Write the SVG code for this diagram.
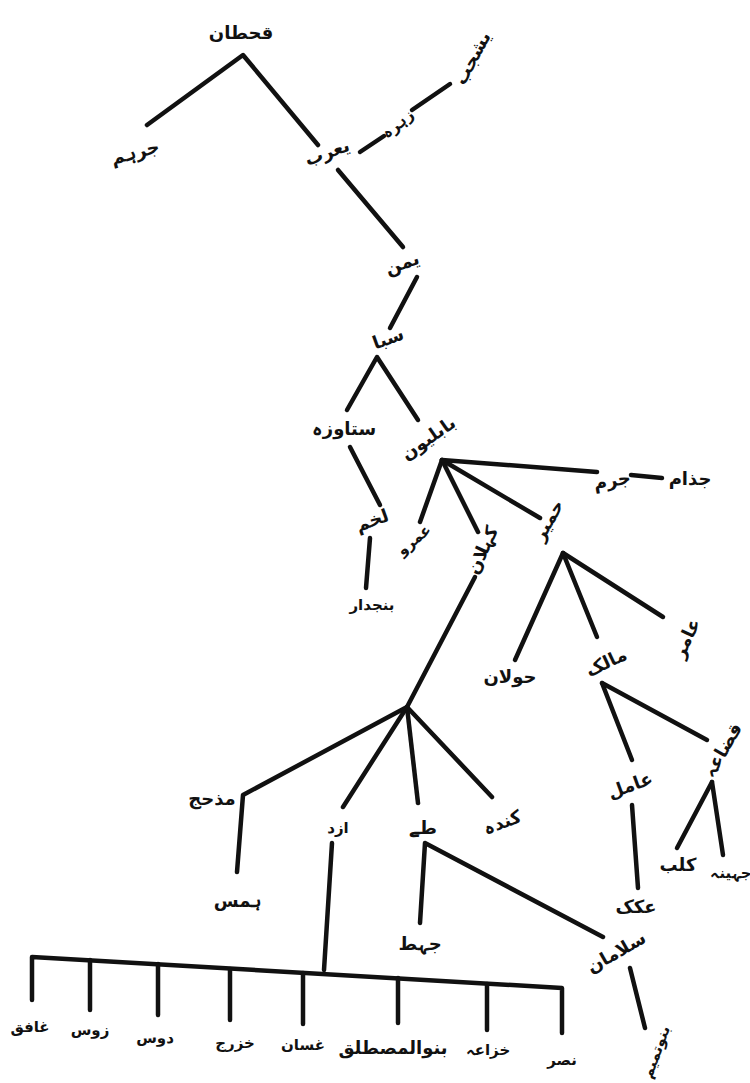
<svg xmlns="http://www.w3.org/2000/svg" width="750" height="1083" viewBox="0 0 750 1083">
<style>
.l{stroke:#111;stroke-width:4.5;fill:none;stroke-linecap:round;stroke-linejoin:round}
.t{font-family:"DejaVu Sans",sans-serif;font-weight:bold;font-size:18px;fill:#111;text-anchor:middle;dominant-baseline:central}
.s{font-size:15px}
</style>
<rect width="750" height="1083" fill="#ffffff"/>
<g id="connectors">
<polyline class="l" points="147,125 243,55 318,145"/>
<line class="l" x1="360" y1="152" x2="384" y2="136"/>
<line class="l" x1="412" y1="110" x2="450" y2="84"/>
<line class="l" x1="338" y1="170" x2="403" y2="247"/>
<line class="l" x1="417" y1="277" x2="390" y2="328"/>
<polyline class="l" points="347,410 377,357 418,420"/>
<line class="l" x1="350" y1="447" x2="380" y2="505"/>
<line class="l" x1="370" y1="538" x2="366" y2="588"/>
<line class="l" x1="442" y1="460" x2="420" y2="522"/>
<line class="l" x1="442" y1="460" x2="478" y2="532"/>
<line class="l" x1="442" y1="460" x2="540" y2="518"/>
<line class="l" x1="442" y1="460" x2="597" y2="472"/>
<line class="l" x1="631" y1="475" x2="662" y2="478"/>
<line class="l" x1="563" y1="553" x2="515" y2="660"/>
<line class="l" x1="563" y1="553" x2="597" y2="637"/>
<line class="l" x1="563" y1="553" x2="663" y2="617"/>
<line class="l" x1="602" y1="683" x2="632" y2="760"/>
<line class="l" x1="602" y1="683" x2="707" y2="740"/>
<line class="l" x1="712" y1="782" x2="677" y2="848"/>
<line class="l" x1="712" y1="782" x2="723" y2="855"/>
<line class="l" x1="632" y1="805" x2="638" y2="888"/>
<line class="l" x1="630" y1="968" x2="645" y2="1028"/>
<line class="l" x1="475" y1="577" x2="407" y2="707"/>
<polyline class="l" points="407,707 243,795 237,872"/>
<line class="l" x1="407" y1="707" x2="343" y2="807"/>
<line class="l" x1="407" y1="707" x2="418" y2="803"/>
<line class="l" x1="407" y1="707" x2="492" y2="797"/>
<polyline class="l" points="420,923 425,843 603,937"/>
<line class="l" x1="332" y1="843" x2="324" y2="970"/>
<polyline class="l" points="32,1000 32,957 562,988 562,1033"/>
<line class="l" x1="90" y1="960" x2="90" y2="1010"/>
<line class="l" x1="158" y1="964" x2="158" y2="1015"/>
<line class="l" x1="230" y1="969" x2="230" y2="1020"/>
<line class="l" x1="303" y1="973" x2="303" y2="1024"/>
<line class="l" x1="398" y1="978" x2="398" y2="1023"/>
<line class="l" x1="487" y1="984" x2="487" y2="1030"/>
</g>
<g id="n-qahtan"><text class="t" x="241" y="32">قحطان</text></g>
<g id="n-jurhum"><text class="t" x="135" y="152" transform="rotate(-15 135 152)">جرہم</text></g>
<g id="n-yarub"><text class="t" x="327" y="152" transform="rotate(-20 327 152)">یعرب</text></g>
<g id="n-zuhra"><text class="t s" x="398" y="124" transform="rotate(-40 398 124)">زہرہ</text></g>
<g id="n-yashjub"><text class="t" x="472" y="58" transform="rotate(-62 472 58)">یشجب</text></g>
<g id="n-yaman"><text class="t" x="402" y="263" transform="rotate(-20 402 263)">یمن</text></g>
<g id="n-saba"><text class="t" x="388" y="338" transform="rotate(-20 388 338)">سبا</text></g>
<g id="n-sitawza"><text class="t" x="344" y="428">ستاوزہ</text></g>
<g id="n-babliyun"><text class="t" x="428" y="438" transform="rotate(-35 428 438)">بابلیون</text></g>
<g id="n-lakhm"><text class="t" x="372" y="520" transform="rotate(-20 372 520)">لخم</text></g>
<g id="n-banjdar"><text class="t s" x="372" y="605">بنجدار</text></g>
<g id="n-amr"><text class="t s" x="414" y="540" transform="rotate(-40 414 540)">عمرو</text></g>
<g id="n-kahlan"><text class="t" x="482" y="550" transform="rotate(-65 482 550)">کہلان</text></g>
<g id="n-himyar"><text class="t" x="548" y="520" transform="rotate(-60 548 520)">حمیر</text></g>
<g id="n-jurm"><text class="t" x="612" y="480" transform="rotate(-10 612 480)">جرم</text></g>
<g id="n-judham"><text class="t" x="690" y="478">جذام</text></g>
<g id="n-hawlan"><text class="t" x="510" y="676">حولان</text></g>
<g id="n-malik"><text class="t" x="606" y="662" transform="rotate(-25 606 662)">مالک</text></g>
<g id="n-amir"><text class="t" x="686" y="638" transform="rotate(-65 686 638)">عامر</text></g>
<g id="n-amil"><text class="t" x="630" y="785" transform="rotate(-20 630 785)">عامل</text></g>
<g id="n-qudaa"><text class="t" x="722" y="750" transform="rotate(-60 722 750)">قضاعہ</text></g>
<g id="n-kalb"><text class="t" x="678" y="864">کلب</text></g>
<g id="n-juhayna"><text class="t s" x="731" y="873">جہینہ</text></g>
<g id="n-akk"><text class="t" x="636" y="906">عکک</text></g>
<g id="n-salaman"><text class="t" x="616" y="952" transform="rotate(-30 616 952)">سلامان</text></g>
<g id="n-banutamim"><text class="t s" x="656" y="1052" transform="rotate(-70 656 1052)">بنوتمیم</text></g>
<g id="n-madhhij"><text class="t" x="212" y="798">مذحج</text></g>
<g id="n-azd"><text class="t s" x="338" y="828">ازد</text></g>
<g id="n-tayy"><text class="t" x="423" y="827">طے</text></g>
<g id="n-kinda"><text class="t" x="502" y="822" transform="rotate(-20 502 822)">کندہ</text></g>
<g id="n-hams"><text class="t" x="238" y="900">ہمس</text></g>
<g id="n-jaht"><text class="t" x="420" y="943">جہط</text></g>
<g id="n-ghafiq"><text class="t s" x="30" y="1027">غافق</text></g>
<g id="n-zaws"><text class="t s" x="90" y="1030">زوس</text></g>
<g id="n-daws"><text class="t s" x="155" y="1038">دوس</text></g>
<g id="n-khazraj"><text class="t s" x="235" y="1043">خزرج</text></g>
<g id="n-ghassan"><text class="t s" x="303" y="1045">غسان</text></g>
<g id="n-mustaliq"><text class="t" x="393" y="1047">بنوالمصطلق</text></g>
<g id="n-khuzaa"><text class="t s" x="488" y="1050">خزاعہ</text></g>
<g id="n-nasr"><text class="t s" x="562" y="1060">نصر</text></g>
</svg>
